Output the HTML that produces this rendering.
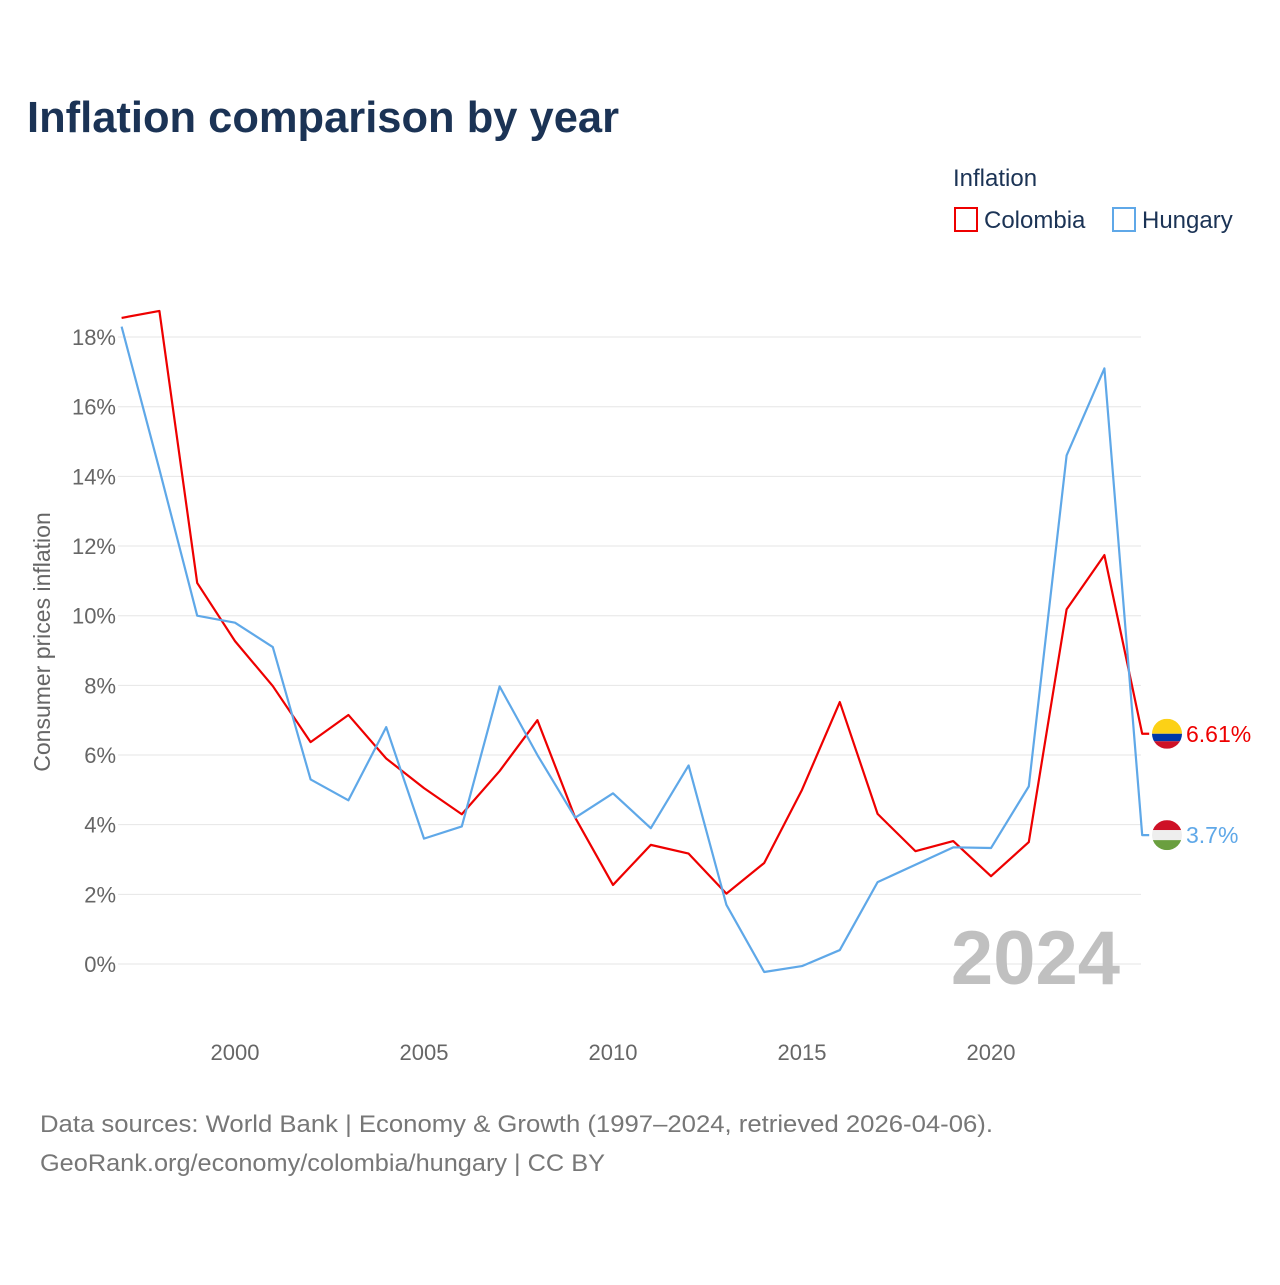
<!DOCTYPE html>
<html><head><meta charset="utf-8"><style>
body{margin:0;background:#fff;font-family:"Liberation Sans",sans-serif;}
</style></head><body>
<svg width="1280" height="1280" xmlns="http://www.w3.org/2000/svg" font-family="Liberation Sans, sans-serif">
<text x="27" y="132" font-size="44" font-weight="bold" fill="#1b3355" textLength="592" lengthAdjust="spacingAndGlyphs">Inflation comparison by year</text>
<text x="953" y="186" font-size="24" fill="#1b3355">Inflation</text>
<g><rect x="955" y="208" width="22" height="23" fill="none" stroke="#ee0000" stroke-width="2"/><text x="984" y="228" font-size="24" fill="#1b3355">Colombia</text></g>
<g><rect x="1113" y="208" width="22" height="23" fill="none" stroke="#5fa8e8" stroke-width="2"/><text x="1142" y="228" font-size="24" fill="#1b3355">Hungary</text></g>
<g id="grid"></g>
<g id="yticks"></g>
<g id="xticks"></g>
<text transform="translate(50,642) rotate(-90)" text-anchor="middle" font-size="23" fill="#666">Consumer prices inflation</text>
<text x="1120" y="984" text-anchor="end" font-size="76" font-weight="bold" fill="#c0c0c0">2024</text>
<g id="series"></g>
<g id="ends"></g>
<text x="40" y="1132" font-size="24" fill="#777" textLength="953" lengthAdjust="spacingAndGlyphs">Data sources: World Bank | Economy &amp; Growth (1997–2024, retrieved 2026-04-06).</text>
<text x="40" y="1171" font-size="24" fill="#777" textLength="565" lengthAdjust="spacingAndGlyphs">GeoRank.org/economy/colombia/hungary | CC BY</text>
</svg>
<script>
const years=[1997,1998,1999,2000,2001,2002,2003,2004,2005,2006,2007,2008,2009,2010,2011,2012,2013,2014,2015,2016,2017,2018,2019,2020,2021,2022,2023,2024];
const colombia=[18.55,18.75,10.94,9.27,7.98,6.37,7.15,5.9,5.05,4.3,5.54,7.0,4.2,2.27,3.42,3.17,2.02,2.9,5.0,7.52,4.31,3.24,3.53,2.52,3.5,10.18,11.74,6.61];
const hungary=[18.3,14.2,10.0,9.8,9.1,5.3,4.7,6.8,3.6,3.95,7.97,6.0,4.2,4.9,3.9,5.7,1.7,-0.23,-0.06,0.4,2.35,2.85,3.35,3.33,5.1,14.6,17.1,3.7];
const yTicks=[0,2,4,6,8,10,12,14,16,18];
const xTicks=[2000,2005,2010,2015,2020];
const NS="http://www.w3.org/2000/svg";
const X=y=>235+(y-2000)*37.8, Y=v=>964-v*34.83;
function mk(t,a,p){const e=document.createElementNS(NS,t);for(const k in a)e.setAttribute(k,a[k]);p.appendChild(e);return e;}
const g=document.getElementById('grid'),yt=document.getElementById('yticks'),xt=document.getElementById('xticks');
yTicks.forEach(v=>{const l=mk('line',{x1:118,x2:1141,y1:Y(v),y2:Y(v),stroke:'#e6e6e6','stroke-width':1},g);


const t=mk('text',{x:116,y:Y(v)+8,'text-anchor':'end','font-size':22,fill:'#666'},yt);t.textContent=v+'%';

});
xTicks.forEach(v=>{const t=mk('text',{x:X(v),y:1060,'text-anchor':'middle','font-size':22,fill:'#666'},xt);t.textContent=v;

});
const s=document.getElementById('series'),en=document.getElementById('ends');
function line(vals,col,name){const pts=vals.map((v,i)=>X(years[i])+','+Y(v));const last=vals[vals.length-1];
pts.push((X(years[years.length-1])+7)+','+Y(last));
const p=mk('polyline',{points:pts.join(' '),fill:'none',stroke:col,'stroke-width':2.2,'stroke-linejoin':'round'},s);

return Y(last);}
const yc=line(colombia,'#ee0000','colombia'),yh=line(hungary,'#5fa8e8','hungary');
function flag(cy,cols,label,col,name){const gg=mk('g',{},en);


const id='c'+name;const cp=mk('clipPath',{id:id},gg);mk('circle',{cx:1167,cy:cy,r:15},cp);
const fr=name=='colombia'?[15,7.5,7.5]:[10,10,10];let yy=cy-15;
cols.forEach((c,i)=>{mk('rect',{x:1152,y:yy,width:30,height:fr[i],fill:c,'clip-path':'url(#'+id+')'},gg);yy+=fr[i];});
const t=mk('text',{x:1186,y:cy+8,'font-size':23,fill:col},gg);t.textContent=label;}
flag(yc,['#fcd116','#0038a8','#ce1126'],colombia[colombia.length-1]+'%','#ee0000','colombia');
flag(yh,['#ce1126','#eeeeee','#6a9f3f'],hungary[hungary.length-1]+'%','#5fa8e8','hungary');
</script>
</body></html>
